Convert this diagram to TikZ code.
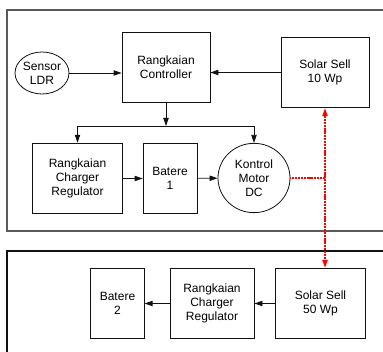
\documentclass[tikz,border=0pt]{standalone}
\usepackage{fontspec}
\setmainfont{Liberation Sans}
\usetikzlibrary{positioning, shapes.geometric, arrows.meta, calc}
\usepackage{xcolor}
\definecolor{plgray}{HTML}{5A5A5A}
\definecolor{plblack}{HTML}{111111}
\definecolor{plred}{HTML}{FF0000}

\begin{document}
\begin{tikzpicture}[x=0.75pt,y=-0.75pt,font=\fontsize{9}{10.5}\selectfont,
    blok/.style={draw=plblack, line width=0.6pt, minimum height=53pt, align=center, inner sep=1pt},
    bulat/.style={draw=plblack, ellipse, line width=0.6pt, align=center, inner sep=0pt},
    panah/.style={-{Triangle[length=6pt,width=4pt]}, line width=0.6pt, color=plblack},
    merah/.style={line width=1.2pt, dash pattern=on 0.8pt off 0.3pt, color=plred}]
        \useasboundingbox (0,0) rectangle (383,352);
        \draw[color=plgray, line width=0.8pt] (390,10) -- (7,10) -- (7,231) -- (390,231);
        \draw[color=plblack, line width=0.8pt] (390,251) -- (7,251) -- (7,360);

        \node[bulat, minimum width=40.5pt, minimum height=31.5pt] (sensor) at (42,73) {Sensor\\LDR};
        \node[blok, minimum width=66pt] (ctrl) at (166,67.5) {Rangkaian\\Controller};
        \node[blok, minimum width=66pt] (solarA) at (325,72.5) {Solar Sell\\10 Wp};
        \node[blok, minimum width=67pt] (chargerA) at (77.5,178.5) {Rangkaian\\Charger\\Regulator};
        \node[blok, minimum width=40.5pt] (bat1) at (170,178.5) {Batere\\1};
        \node[bulat, minimum width=54pt, minimum height=52pt] (kontrol) at (254,178) {Kontrol\\Motor\\DC};

        \node[blok, minimum width=40pt] (batB) at (117.5,303.5) {Batere\\2};
        \node[blok, minimum width=63pt] (chargerB) at (212,303.5) {Rangkaian\\Charger\\Regulator};
        \node[blok, minimum width=67pt] (solarB) at (320.5,303.5) {Solar Sell\\50 Wp};

        \coordinate (cabang) at (166,126);
        \draw[panah] (sensor.east) -- (sensor.east -| ctrl.west);
        \draw[panah] (solarA.west) -- (solarA.west -| ctrl.east);
        \draw[panah] (ctrl.south) -- (cabang);
        \draw[panah] (cabang) -| (chargerA.north);
        \draw[panah] (cabang) -| (kontrol.north);
        \draw[panah] (chargerA) -- (bat1);
        \draw[panah] (bat1) -- (kontrol);

        \draw[merah] (kontrol.east) -- (kontrol.east -| solarA.south);
        \draw[merah, {Triangle[length=6pt,width=4pt]}-{Triangle[length=6pt,width=4pt]}] (solarA.south) -- (solarA.south |- solarB.north);

        \draw[panah] (solarB) -- (chargerB);
        \draw[panah] (chargerB) -- (batB);
      \end{tikzpicture}
\end{document}
